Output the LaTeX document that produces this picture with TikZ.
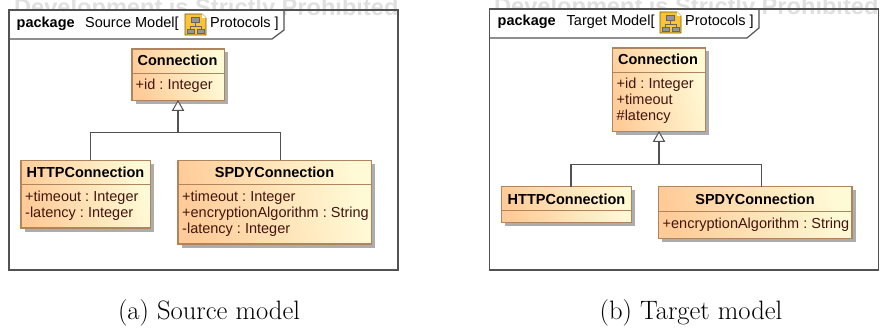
\documentclass[tikz,border=0pt]{standalone}
\usepackage{fontspec}
\setsansfont{Liberation Sans}
\usetikzlibrary{calc}
\definecolor{clsline}{RGB}{176,132,92}
\definecolor{clsleft}{RGB}{255,204,153}
\definecolor{clsright}{RGB}{255,250,214}
\definecolor{attrcol}{RGB}{66,22,14}
\definecolor{frameline}{RGB}{82,82,82}
\definecolor{wmark}{RGB}{224,224,224}
\definecolor{iconfill}{RGB}{252,196,50}
\definecolor{iconbox}{RGB}{150,150,150}
\tikzset{
  x=1pt,y=-1pt,
  classbox/.style={draw=clsline,line width=1.1pt,anchor=north west,inner sep=0pt,outer sep=0pt,
    left color=clsleft,right color=clsright,shading angle=105},
  boxshadow/.style={fill=black!32,draw=none},
  divider/.style={draw=clsline,line width=.9pt},
  classname/.style={font=\sffamily\bfseries\fontsize{14.5}{16}\selectfont,inner sep=0pt,text=black,anchor=base},
  attrs/.style={font=\sffamily\fontsize{14.5}{16}\selectfont,inner sep=0pt,text=attrcol,anchor=base west},
  tabtext/.style={font=\sffamily\fontsize{14.5}{16}\selectfont,inner sep=0pt,text=black,anchor=base west},
  frameedge/.style={draw=frameline,line width=1.2pt},
  rel/.style={draw=frameline,line width=1.15pt},
  tip/.style={draw=frameline,line width=1pt,fill=white,line join=miter},
  watermark/.style={font=\sffamily\bfseries\fontsize{23.6}{26}\selectfont,text=wmark,inner sep=0pt,anchor=base west},
  captiontext/.style={font=\fontsize{26.6}{30}\selectfont,inner sep=0pt,anchor=base},
}
\newcommand{\clsbox}[6]{% name, x1, y1, x2, y2, divider y
  \fill[boxshadow] (#2+3.5,#3+3.5) rectangle (#4+3.5,#5+3.5);
  \node[classbox,minimum width=#4-#2,minimum height=#5-#3] (#1) at (#2,#3) {};
  \draw[divider] (#2,#6) -- (#4,#6);
}
\newcommand{\pkgicon}[2]{% x, y of top-left (21x21)
  \begin{scope}[shift={(#1,#2)}]
    \fill[iconfill] (0,0) -- (17,0) -- (21,4) -- (21,21) -- (0,21) -- cycle;
    \draw[black!55!iconfill,line width=.7pt] (0,0) -- (17,0) -- (21,4) -- (21,21) -- (0,21) -- cycle;
    \fill[white] (17,0) -- (21,4) -- (17,4) -- cycle;
    \draw[black!60,line width=.6pt] (10.5,8) -- (10.5,12) (5,15) -- (5,12) -- (16,12) -- (16,15);
    \fill[iconbox,draw=black!60,line width=.4pt] (6.5,3) rectangle (14.5,8.5);
    \fill[iconbox,draw=black!60,line width=.4pt] (2,15) rectangle (9,19.5);
    \fill[iconbox,draw=black!60,line width=.4pt] (12,15) rectangle (19,19.5);
  \end{scope}
}
\begin{document}
\begin{tikzpicture}
\frenchspacing
\useasboundingbox (0,0) rectangle (882,331);
\fill[white] (0,0) rectangle (882,331);
% watermarks
\begin{scope}
  \clip (9,0) rectangle (398,16);
  \node[watermark] (wma) at (14,15.5) {Development is Strictly Prohibited};
\end{scope}
\begin{scope}
  \clip (489.5,0) rectangle (878.5,16);
  \node[watermark] (wmb) at (494,14.5) {Development is Strictly Prohibited};
\end{scope}
% ---------- left frame
\fill[white] (9,10) -- (284,10) -- (284,30) -- (272,39) -- (9,39) -- cycle;
\fill[white] (9,39) rectangle (398,270);
\draw[frameedge] (9,10) rectangle (398,270);
\draw[frameedge] (9,39) -- (272,39) -- (284,30) -- (284,10);
\node[tabtext,font=\sffamily\bfseries\fontsize{14.5}{16}\selectfont] (pa) at (16.5,27.5) {package};
\node[tabtext] (sa) at (85,27.5) {Source Model[};
\pkgicon{185}{14}
\node[tabtext] (pra) at (210,27.5) {Protocols ]};
% classes left
\clsbox{conna}{132}{49}{224.5}{100.5}{73}
\node[classname] (conna-n) at (177.5,66) {Connection};
\node[attrs] (conna-a) at (135.5,90) {+id : Integer};
\clsbox{httpa}{21}{160.5}{150.5}{228}{184}
\node[classname] (httpa-n) at (85.5,177.5) {HTTPConnection};
\node[attrs] (httpa-a) at (25,201.5) {+timeout : Integer};
\node[attrs] (httpa-b) at (25,217.5) {-latency : Integer};
\clsbox{spdya}{178}{160.5}{371.5}{244}{184}
\node[classname] (spdya-n) at (274.5,177.5) {SPDYConnection};
\node[attrs] (spdya-a) at (182,201.5) {+timeout : Integer};
\node[attrs] (spdya-b) at (182,217.5) {+encryptionAlgorithm : String};
\node[attrs] (spdya-c) at (182,233.5) {-latency : Integer};
% inheritance left
\coordinate (juna) at (178,132.5);
\coordinate (httpa-top) at (90.5,160.5);
\coordinate (spdya-top) at (280.5,160.5);
\coordinate (tipa-base) at (178,110);
\coordinate (tipa-apex) at (178,101);
\draw[rel] (httpa-top) -- (httpa-top |- juna) -- (spdya-top |- juna) -- (spdya-top);
\draw[rel] (juna) -- (tipa-base);
\draw[tip] (tipa-apex) -- ++(5.5,9.5) -- ++(-11,0) -- cycle;
% ---------- right frame
\fill[white] (489.5,9) -- (759,9) -- (759,28) -- (747,38) -- (489.5,38) -- cycle;
\fill[white] (489.5,38) rectangle (878.5,270);
\draw[frameedge] (489.5,9) rectangle (878.5,270);
\draw[frameedge] (489.5,38) -- (747,38) -- (759,28) -- (759,9);
\node[tabtext,font=\sffamily\bfseries\fontsize{14.5}{16}\selectfont] (pb) at (497.5,25.5) {package};
\node[tabtext] (sb) at (566.5,25.5) {Target Model[};
\pkgicon{660}{12}
\node[tabtext] (prb) at (685,25.5) {Protocols ]};
% classes right
\clsbox{connb}{612.5}{48}{705.5}{131.5}{72}
\node[classname] (connb-n) at (658,65) {Connection};
\node[attrs] (connb-a) at (616.5,89) {+id : Integer};
\node[attrs] (connb-b) at (616.5,105) {+timeout};
\node[attrs] (connb-c) at (616.5,120.5) {\#latency};
\clsbox{httpb}{501.5}{186.5}{631.5}{222.5}{210.5}
\node[classname] (httpb-n) at (566.5,204) {HTTPConnection};
\clsbox{spdyb}{658.5}{186.5}{852}{238.5}{211}
\node[classname] (spdyb-n) at (755,204) {SPDYConnection};
\node[attrs] (spdyb-a) at (662.5,228) {+encryptionAlgorithm : String};
% inheritance right
\coordinate (junb) at (659,164.5);
\coordinate (httpb-top) at (571,186.5);
\coordinate (spdyb-top) at (761.5,186.5);
\coordinate (tipb-base) at (659,141);
\coordinate (tipb-apex) at (659,132);
\draw[rel] (httpb-top) -- (httpb-top |- junb) -- (spdyb-top |- junb) -- (spdyb-top);
\draw[rel] (junb) -- (tipb-base);
\draw[tip] (tipb-apex) -- ++(5.5,9.5) -- ++(-11,0) -- cycle;
% captions
\node[captiontext] (capa) at (209,319.5) {(a) Source model};
\node[captiontext] (capb) at (691,319.5) {(b) Target model};
\end{tikzpicture}
\end{document}
